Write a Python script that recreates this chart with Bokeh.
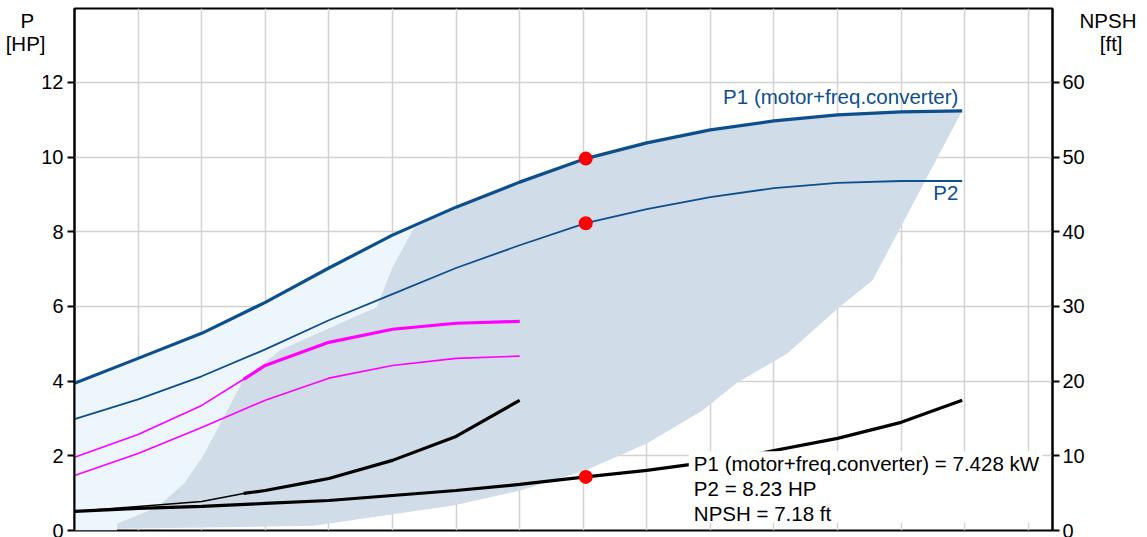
from bokeh.plotting import figure
from bokeh.models import Range1d, LinearAxis, FixedTicker, Label
from bokeh.embed import file_html
from bokeh.resources import INLINE

FONT = "Liberation Sans"
BLUE = "#0c4f8c"
MAGENTA = "#ff00ff"
FS = "20.5px"

# flow (grid every 10 units, axis not labelled in the picture)
flow_p1 = [0, 10, 20, 30, 40, 50, 60, 70, 80.4, 90, 100, 110, 120, 130, 139.6]
p1_hp = [3.94, 4.61, 5.28, 6.11, 7.03, 7.91, 8.66, 9.33, 9.96, 10.38, 10.73, 10.97, 11.13, 11.21, 11.24]
p2_hp = [2.98, 3.51, 4.13, 4.85, 5.63, 6.33, 7.03, 7.64, 8.23, 8.61, 8.93, 9.17, 9.31, 9.36, 9.36]

# reduced-speed curves
flow_red_p1 = [0, 10, 20, 26.6, 30, 40, 50, 60, 70]
p1_red_hp = [1.96, 2.57, 3.35, 4.05, 4.42, 5.04, 5.39, 5.55, 5.60]
flow_red_p2 = [0, 10, 20, 30, 40, 50, 60, 70]
p2_red_hp = [1.47, 2.06, 2.76, 3.49, 4.08, 4.42, 4.61, 4.67]
flow_red_npsh = [0, 10, 20, 26.6, 30, 37.6, 40, 50, 60, 70]
npsh_red_ft = [2.55, 3.22, 3.89, 4.96, 5.36, 6.57, 6.97, 9.39, 12.6, 17.43]
min_flow_red = 26.6

# NPSH at full speed
flow_npsh = [0, 10, 20, 30, 40, 50, 60, 70, 80.4, 90, 97, 107.7, 120, 130, 139.6]
npsh_ft = [2.55, 2.95, 3.22, 3.62, 4.02, 4.69, 5.36, 6.17, 7.18, 8.04, 8.85, 10.32, 12.34, 14.48, 17.43]

# operating range outline (P1)
range_top_q = [53.4, 60, 70, 80.4, 90, 100, 110, 120, 130, 139.6]
range_top_p = [8.10, 8.66, 9.33, 9.96, 10.38, 10.73, 10.97, 11.13, 11.21, 11.24]
range_low_q = [129.5, 125.5, 120.2, 112.1, 104.2, 98.7, 90.0, 80.3, 70.1, 59.6, 37.6, 20.8, 6.7]
range_low_p = [7.99, 6.70, 5.97, 4.74, 3.96, 3.21, 2.33, 1.61, 1.07, 0.67, 0.13, 0.08, 0.05]
range_left_q = [6.7, 13.0, 17.2, 20.1, 23.2, 26.5, 32.3, 40.1, 47.5, 50.0, 53.0]
range_left_p = [0.19, 0.62, 1.26, 1.96, 2.95, 4.02, 4.83, 5.42, 5.98, 7.05, 7.99]

# duty point
duty_q = 80.4
duty_p1_hp = 9.96
duty_p2_hp = 8.23
duty_npsh_ft = 7.18
duty_p1_kw = 7.428

left_ticks = [0, 2, 4, 6, 8, 10, 12]
right_ticks = [0, 10, 20, 30, 40, 50, 60]
x_grid = [10, 20, 30, 40, 50, 60, 70, 80, 90, 100, 110, 120, 130, 140, 150]

Y_MAX = 13.98
p = figure(width=1139, height=537, output_backend="svg", toolbar_location=None,
           x_range=Range1d(0, 153.8), y_range=Range1d(0, Y_MAX),
           min_border_left=74, min_border_right=84, min_border_top=8, min_border_bottom=7,
           background_fill_color="white", border_fill_color="white")
p.extra_y_ranges = {"npsh": Range1d(0, Y_MAX * 5)}
p.outline_line_color = "black"
p.outline_line_width = 2

p.xaxis.visible = False
p.xgrid.ticker = FixedTicker(ticks=x_grid)
p.ygrid.ticker = FixedTicker(ticks=left_ticks)
for g in (p.xgrid, p.ygrid):
    g.grid_line_color = "#d2d2d2"
    g.grid_line_width = 1.5


def style_label(a, text, standoff):
    a.axis_label = text
    a.axis_label_orientation = "horizontal"
    a.axis_label_align = "end"
    a.axis_label_standoff = standoff
    a.axis_label_text_font = FONT
    a.axis_label_text_font_size = FS
    a.axis_label_text_font_style = "normal"
    a.axis_label_text_color = "black"
    a.axis_label_text_line_height = 1.0


def style_axis(a, standoff):
    a.axis_line_width = 2
    a.major_tick_line_width = 2
    a.major_tick_out = 7
    a.major_tick_in = 0
    a.minor_tick_line_color = None
    a.major_label_standoff = standoff
    a.major_label_text_font = FONT
    a.major_label_text_font_size = "20px"
    a.major_label_text_color = "black"


def label_only_axis(range_name):
    a = LinearAxis(y_range_name=range_name, ticker=FixedTicker(ticks=[]))
    a.axis_line_color = None
    a.major_tick_line_color = None
    a.minor_tick_line_color = None
    a.major_tick_out = 0
    a.minor_tick_out = 0
    a.major_tick_in = 0
    a.minor_tick_in = 0
    a.major_label_standoff = 0
    return a


# left: P1/P2 power axis in HP
ax = p.yaxis[0]
ax.ticker = FixedTicker(ticks=left_ticks)
style_axis(ax, 4)
style_label(ax, "\nP", 4)

ax_unit = label_only_axis("default")
style_label(ax_unit, "\n\n\n[HP]", -28)
p.add_layout(ax_unit, "left")

# right: NPSH axis in ft
rax = LinearAxis(y_range_name="npsh", ticker=FixedTicker(ticks=right_ticks))
style_axis(rax, 3)
style_label(rax, "\n\n\n[ft]", 12)
p.add_layout(rax, "right")

rax_name = label_only_axis("npsh")
style_label(rax_name, "\nNPSH", -46)
p.add_layout(rax_name, "right")

# light region (below min flow) and operating range
n_left = sum(1 for q in flow_p1 if q < range_top_q[0])
light_x = [0] + flow_p1[:n_left] + [range_top_q[0]] + range_left_q[::-1] + [range_left_q[0], 0]
light_y = [0] + p1_hp[:n_left] + [range_top_p[0]] + range_left_p[::-1] + [0, 0]
p.patch(light_x, light_y, fill_color="#eef6fd", line_color=None)

gray_x = range_top_q + range_low_q + range_left_q
gray_y = range_top_p + range_low_p + range_left_p
p.patch(gray_x, gray_y, fill_color="#d0dce8", line_color=None)

# reduced speed curves
k = flow_red_p1.index(min_flow_red)
p.line(flow_red_p1, p1_red_hp, line_color=MAGENTA, line_width=1.6)
p.line(flow_red_p1[k:], p1_red_hp[k:], line_color=MAGENTA, line_width=3.2)
p.line(flow_red_p2, p2_red_hp, line_color=MAGENTA, line_width=1.6)
kn = flow_red_npsh.index(min_flow_red)
p.line(flow_red_npsh, npsh_red_ft, line_color="black", line_width=1.6, y_range_name="npsh")
p.line(flow_red_npsh[kn:], npsh_red_ft[kn:], line_color="black", line_width=3.2, y_range_name="npsh")

# full speed curves
p.line(flow_p1, p1_hp, line_color=BLUE, line_width=3.2)
p.line(flow_p1, p2_hp, line_color=BLUE, line_width=1.8)
p.line(flow_npsh, npsh_ft, line_color="black", line_width=3.2, y_range_name="npsh")

# white box behind the duty text
p.quad(left=96.6, right=152.2, bottom=0.21, top=2.12, fill_color="white", line_color=None)

# duty point markers
p.scatter([duty_q, duty_q], [duty_p1_hp, duty_p2_hp], size=14, fill_color="#ff0000", line_color=None)
p.scatter([duty_q], [duty_npsh_ft], size=14, fill_color="#ff0000", line_color=None, y_range_name="npsh")


def lab(x, y, text, align="left", color="black"):
    p.add_layout(Label(x=x, y=y, text=text, text_align=align, text_baseline="middle",
                       text_font=FONT, text_font_size=FS, text_color=color))


lab(139.0, 11.61, "P1 (motor+freq.converter)", align="right", color=BLUE)
lab(139.0, 9.06, "P2", align="right", color=BLUE)

lab(97.4, 1.80, f"P1 (motor+freq.converter) = {duty_p1_kw} kW")
lab(97.4, 1.12, f"P2 = {duty_p2_hp} HP")
lab(97.4, 0.45, f"NPSH = {duty_npsh_ft} ft")

open("out.html", "w").write(file_html(p, INLINE))
